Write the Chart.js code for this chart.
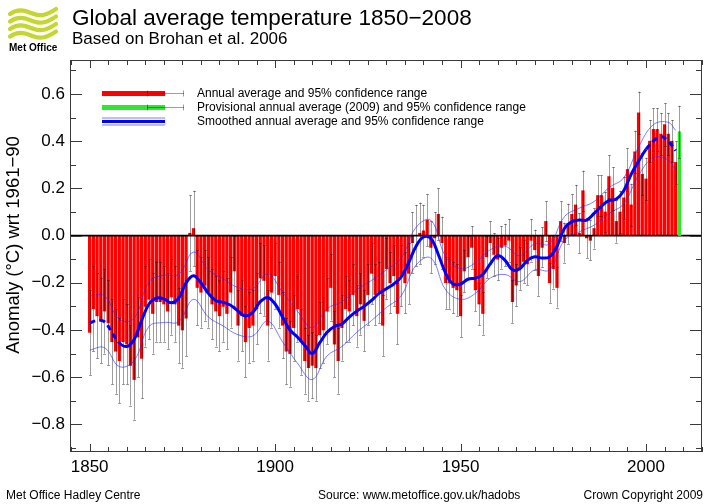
<!DOCTYPE html>
<html>
<head>
<meta charset="utf-8">
<script src="https://cdn.jsdelivr.net/npm/chart.js@4.4.1/dist/chart.umd.min.js"></script>
<style>
  html, body { margin: 0; padding: 0; background: #ffffff; }
  canvas { display: block; }
</style>
</head>
<body>
<canvas id="chart" width="708" height="504"></canvas>
<script>
// annual global anomaly (degC wrt 1961-90), 1850..2008, one row per decade
const firstYear = 1850;
const annualAnomaly = [
  -0.41, -0.31, -0.34, -0.36, -0.32, -0.37, -0.45, -0.49, -0.53, -0.45,
  -0.46, -0.55, -0.61, -0.43, -0.52, -0.30, -0.27, -0.33, -0.28, -0.28,
  -0.29, -0.32, -0.26, -0.29, -0.38, -0.40, -0.35, 0.01, 0.03, -0.22,
  -0.24, -0.21, -0.24, -0.29, -0.32, -0.34, -0.30, -0.33, -0.24, -0.15,
  -0.38, -0.34, -0.45, -0.39, -0.38, -0.31, -0.18, -0.19, -0.38, -0.24,
  -0.17, -0.25, -0.38, -0.49, -0.50, -0.39, -0.31, -0.45, -0.53, -0.56,
  -0.55, -0.56, -0.42, -0.40, -0.32, -0.22, -0.46, -0.53, -0.39, -0.31,
  -0.32, -0.25, -0.34, -0.29, -0.36, -0.25, -0.16, -0.25, -0.24, -0.38,
  -0.14, -0.20, -0.17, -0.33, -0.17, -0.20, -0.16, -0.03, 0.00, 0.01,
  0.02, 0.065, -0.05, -0.01, 0.09, -0.03, -0.20, -0.20, -0.22, -0.23,
  -0.34, -0.15, -0.09, -0.05, -0.23, -0.29, -0.33, -0.09, -0.03, -0.08,
  -0.10, -0.05, -0.04, -0.02, -0.28, -0.21, -0.14, -0.11, -0.12, -0.02,
  -0.06, -0.17, -0.05, 0.06, -0.20, -0.14, -0.22, 0.06, -0.03, 0.05,
  0.09, 0.13, 0.01, 0.19, -0.01, -0.02, 0.03, 0.17, 0.17, 0.10,
  0.25, 0.20, 0.06, 0.10, 0.16, 0.28, 0.13, 0.355, 0.52, 0.26,
  0.24, 0.40, 0.45, 0.45, 0.43, 0.47, 0.43, 0.40, 0.31,
];
// half width of the 95% range of the annual values, per decade
const annualHalfRange = [0.18, 0.17, 0.16, 0.15, 0.15, 0.14, 0.14, 0.13,
  0.13, 0.11, 0.09, 0.09, 0.085, 0.085, 0.09, 0.09];

const provisionalYear = 2009;
const provisionalAnomaly = 0.44;
const provisionalHalfRange = 0.11;

// smoothed series, every second year from 1850
const smoothAnomaly = [
  -0.37, -0.36, -0.365, -0.41, -0.455, -0.47, -0.44, -0.36, -0.29, -0.265,
  -0.268, -0.285, -0.265, -0.20, -0.17, -0.20, -0.245, -0.275, -0.283, -0.295,
  -0.32, -0.34, -0.325, -0.28, -0.262, -0.29, -0.345, -0.40, -0.43, -0.465,
  -0.50, -0.455, -0.41, -0.385, -0.375, -0.345, -0.32, -0.30, -0.275, -0.245,
  -0.225, -0.205, -0.175, -0.115, -0.045, -0.006, -0.012, -0.08, -0.16, -0.205,
  -0.205, -0.185, -0.18, -0.165, -0.12, -0.085, -0.105, -0.145, -0.14, -0.105,
  -0.09, -0.095, -0.09, -0.045, 0.03, 0.059, 0.066, 0.066, 0.094, 0.125,
  0.148, 0.155, 0.19, 0.26, 0.315, 0.365, 0.40, 0.42, 0.40, 0.36,
];
const smoothYears = smoothAnomaly.map((_, i) => firstYear + 2 * i);

// 95% range of the smoothed series
const bandYears = [1850, 1854, 1858, 1862, 1866, 1870, 1874, 1878, 1882, 1886,
  1890, 1894, 1898, 1902, 1906, 1910, 1914, 1918, 1922, 1926, 1930, 1934,
  1938, 1942, 1946, 1950, 1954, 1958, 1962, 1966, 1970, 1974, 1978, 1982,
  1986, 1990, 1994, 1998, 2002, 2006, 2008];
const bandUpper = [-0.255, -0.255, -0.355, -0.35, -0.195, -0.168, -0.165, -0.07,
  -0.145, -0.183, -0.22, -0.225, -0.162, -0.24, -0.32, -0.39, -0.31, -0.28,
  -0.23, -0.19, -0.145, -0.095, 0.035, 0.065, -0.09, -0.14, -0.115, -0.06,
  -0.045, -0.085, -0.035, -0.035, 0.08, 0.116, 0.144, 0.203, 0.245, 0.375,
  0.47, 0.48, 0.445];
const bandLower = [-0.485, -0.475, -0.555, -0.53, -0.385, -0.368, -0.365, -0.27,
  -0.345, -0.383, -0.42, -0.425, -0.362, -0.45, -0.54, -0.61, -0.51, -0.47,
  -0.41, -0.36, -0.305, -0.255, -0.125, -0.095, -0.23, -0.27, -0.245, -0.18,
  -0.165, -0.195, -0.145, -0.145, -0.02, 0.016, 0.044, 0.093, 0.135, 0.255,
  0.33, 0.32, 0.275];

const xTickValues = [1850, 1900, 1950, 2000];
const xTickLabels = ["1850", "1900", "1950", "2000"];
const yTickValues = [0.6, 0.4, 0.2, 0, -0.2, -0.4, -0.6, -0.8];
const yTickLabels = ["0.6", "0.4", "0.2", "0.0", "\u22120.2", "\u22120.4", "\u22120.6", "\u22120.8"];

const legendLabels = [
  "Annual average and 95% confidence range",
  "Provisional annual average (2009) and 95% confidence range",
  "Smoothed annual average and 95% confidence range",
];

const colors = {
  red: "#ff0000",
  green: "#2ee82e",
  blue: "#0000ff",
  band: "rgba(40, 40, 255, 0.6)",
  whisker: "rgba(0, 0, 0, 0.38)",
  frame: "#3a3a3a",
  logo: "#c5d631",
};

const font = '"Liberation Sans", Arial, Helvetica, sans-serif';

const annualPoints = annualAnomaly.map((y, i) => ({ x: firstYear + i, y }));
const smoothPoints = smoothAnomaly.map((y, i) => ({ x: smoothYears[i], y }));
const upperPoints = bandUpper.map((y, i) => ({ x: bandYears[i], y }));
const lowerPoints = bandLower.map((y, i) => ({ x: bandYears[i], y }));

function drawWhiskers(chart, points, halfRangeOf) {
  const { ctx, scales } = chart;
  ctx.save();
  ctx.strokeStyle = colors.whisker;
  ctx.lineWidth = 1;
  points.forEach((p, i) => {
    const h = halfRangeOf(p, i);
    const x = Math.round(scales.x.getPixelForValue(p.x)) + 0.5;
    const y1 = scales.y.getPixelForValue(p.y - h);
    const y2 = scales.y.getPixelForValue(p.y + h);
    ctx.beginPath();
    ctx.moveTo(x, y1);
    ctx.lineTo(x, y2);
    ctx.moveTo(x - 1.5, Math.round(y1) + 0.5);
    ctx.lineTo(x + 1.5, Math.round(y1) + 0.5);
    ctx.moveTo(x - 1.5, Math.round(y2) + 0.5);
    ctx.lineTo(x + 1.5, Math.round(y2) + 0.5);
    ctx.stroke();
  });
  ctx.restore();
}

function drawLogo(ctx) {
  ctx.save();
  ctx.strokeStyle = colors.logo;
  ctx.lineWidth = 4.2;
  ctx.lineCap = "round";
  [13, 20.5, 28, 35.5].forEach((base) => {
    ctx.beginPath();
    ctx.moveTo(10, base + 1);
    ctx.bezierCurveTo(20, base - 6, 28, base - 1, 34, base + 1);
    ctx.bezierCurveTo(42, base + 4, 48, base + 1, 56, base - 4);
    ctx.stroke();
  });
  ctx.fillStyle = "#000";
  ctx.font = "bold 10px " + font;
  ctx.textAlign = "left";
  ctx.textBaseline = "alphabetic";
  ctx.fillText("Met Office", 9, 51);
  ctx.restore();
}

function drawLegend(ctx) {
  ctx.save();
  const x0 = 102, x1 = 165, xe0 = 147, xe1 = 184;
  [[93.5, colors.red], [107.5, colors.green]].forEach(([y, c]) => {
    ctx.fillStyle = c;
    ctx.fillRect(x0, y - 2.5, x1 - x0, 5);
    ctx.strokeStyle = colors.whisker;
    ctx.lineWidth = 1;
    ctx.beginPath();
    ctx.moveTo(xe0, y);
    ctx.lineTo(xe1, y);
    ctx.moveTo(xe0 + 0.5, y - 3);
    ctx.lineTo(xe0 + 0.5, y + 3);
    ctx.moveTo(xe1 - 0.5, y - 3);
    ctx.lineTo(xe1 - 0.5, y + 3);
    ctx.stroke();
  });
  const yb = 121.5;
  ctx.strokeStyle = colors.band;
  ctx.lineWidth = 1;
  ctx.beginPath();
  ctx.moveTo(x0, yb - 3.5);
  ctx.lineTo(x1, yb - 3.5);
  ctx.moveTo(x0, yb + 3.5);
  ctx.lineTo(x1, yb + 3.5);
  ctx.stroke();
  ctx.strokeStyle = colors.blue;
  ctx.lineWidth = 3;
  ctx.beginPath();
  ctx.moveTo(x0, yb);
  ctx.lineTo(x1, yb);
  ctx.stroke();

  ctx.fillStyle = "#000";
  ctx.font = "12px " + font;
  ctx.textAlign = "left";
  ctx.textBaseline = "middle";
  [93.5, 107.5, 121.5].forEach((y, i) => ctx.fillText(legendLabels[i], 197, y));
  ctx.restore();
}

const decorations = {
  id: "decorations",
  afterDatasetDraw(chart, args) {
    const { ctx, chartArea, scales } = chart;
    if (args.index === 0) {
      drawWhiskers(chart, annualPoints, (p) =>
        annualHalfRange[Math.floor((p.x - firstYear) / 10)]);
      const y0 = scales.y.getPixelForValue(0);
      ctx.save();
      ctx.strokeStyle = "#000";
      ctx.lineWidth = 1.6;
      ctx.beginPath();
      ctx.moveTo(chartArea.left, y0);
      ctx.lineTo(chartArea.right, y0);
      ctx.stroke();
      ctx.restore();
    }
    if (args.index === 1) {
      drawWhiskers(chart, [{ x: provisionalYear, y: provisionalAnomaly }],
        () => provisionalHalfRange);
    }
  },
  afterDraw(chart) {
    const { ctx, chartArea: a, scales } = chart;
    const xs = scales.x, ys = scales.y;
    ctx.save();

    // frame
    ctx.strokeStyle = colors.frame;
    ctx.lineWidth = 1;
    ctx.strokeRect(a.left + 0.5, a.top + 0.5, a.right - a.left - 1, a.bottom - a.top - 1);

    // inward tick marks
    ctx.beginPath();
    for (let v = 1845; v <= xs.max; v += 5) {
      const x = Math.round(xs.getPixelForValue(v)) + 0.5;
      const len = xTickValues.includes(v) ? 8 : 5;
      ctx.moveTo(x, a.top);
      ctx.lineTo(x, a.top + len);
      ctx.moveTo(x, a.bottom);
      ctx.lineTo(x, a.bottom - len);
    }
    for (let k = -9; k <= 7; k++) {
      const v = k / 10;
      const y = Math.round(ys.getPixelForValue(v)) + 0.5;
      const len = k % 2 === 0 ? 12 : 6;
      ctx.moveTo(a.left, y);
      ctx.lineTo(a.left + len, y);
      ctx.moveTo(a.right, y);
      ctx.lineTo(a.right - len, y);
    }
    ctx.stroke();

    // tick labels
    ctx.fillStyle = "#000";
    ctx.font = "17px " + font;
    ctx.textAlign = "right";
    ctx.textBaseline = "middle";
    yTickValues.forEach((v, i) => ctx.fillText(yTickLabels[i], 65, ys.getPixelForValue(v)));
    ctx.textAlign = "center";
    xTickValues.forEach((v, i) => ctx.fillText(xTickLabels[i], xs.getPixelForValue(v), 467));

    // axis title
    ctx.save();
    ctx.translate(14, 245);
    ctx.rotate(-Math.PI / 2);
    ctx.font = "18.5px " + font;
    ctx.fillText("Anomaly (\u00b0C) wrt 1961\u221290", 0, 0);
    ctx.restore();

    // header
    ctx.textAlign = "left";
    ctx.textBaseline = "alphabetic";
    ctx.font = "22.5px " + font;
    ctx.fillText("Global average temperature 1850\u22122008", 72, 25);
    ctx.font = "17px " + font;
    ctx.fillText("Based on Brohan et al. 2006", 72, 44);

    // footer
    ctx.font = "12px " + font;
    ctx.fillText("Met Office Hadley Centre", 6, 499);
    ctx.fillText("Source: www.metoffice.gov.uk/hadobs", 318, 499);
    ctx.textAlign = "right";
    ctx.fillText("Crown Copyright 2009", 703, 499);

    drawLegend(ctx);
    drawLogo(ctx);
    ctx.restore();
  },
};

const dashed = (ctx) =>
  ctx.p1.parsed.x <= 1858 || ctx.p0.parsed.x >= 2000 ? [6, 4] : undefined;

new Chart(document.getElementById("chart"), {
  type: "bar",
  data: {
    datasets: [
      {
        data: annualPoints,
        backgroundColor: colors.red,
        barThickness: 2.6,
        grouped: false,
        order: 4,
      },
      {
        data: [{ x: provisionalYear, y: provisionalAnomaly }],
        backgroundColor: colors.green,
        barThickness: 2.6,
        grouped: false,
        order: 3,
      },
      {
        type: "line",
        data: upperPoints,
        borderColor: colors.band,
        borderWidth: 1,
        pointRadius: 0,
        tension: 0.4,
        order: 2,
      },
      {
        type: "line",
        data: lowerPoints,
        borderColor: colors.band,
        borderWidth: 1,
        pointRadius: 0,
        tension: 0.4,
        order: 2,
      },
      {
        type: "line",
        data: smoothPoints,
        borderColor: colors.blue,
        borderWidth: 3,
        pointRadius: 0,
        tension: 0.4,
        segment: { borderDash: dashed },
        order: 0,
      },
    ],
  },
  options: {
    responsive: false,
    animation: false,
    events: [],
    layout: { padding: { left: 70, right: 6, top: 60, bottom: 52 } },
    plugins: { legend: { display: false }, tooltip: { enabled: false } },
    scales: {
      x: { type: "linear", min: 1844.7, max: 2015.1, offset: false, display: false },
      y: { type: "linear", min: -0.917, max: 0.744, display: false },
    },
  },
  plugins: [decorations],
});
</script>
</body>
</html>
